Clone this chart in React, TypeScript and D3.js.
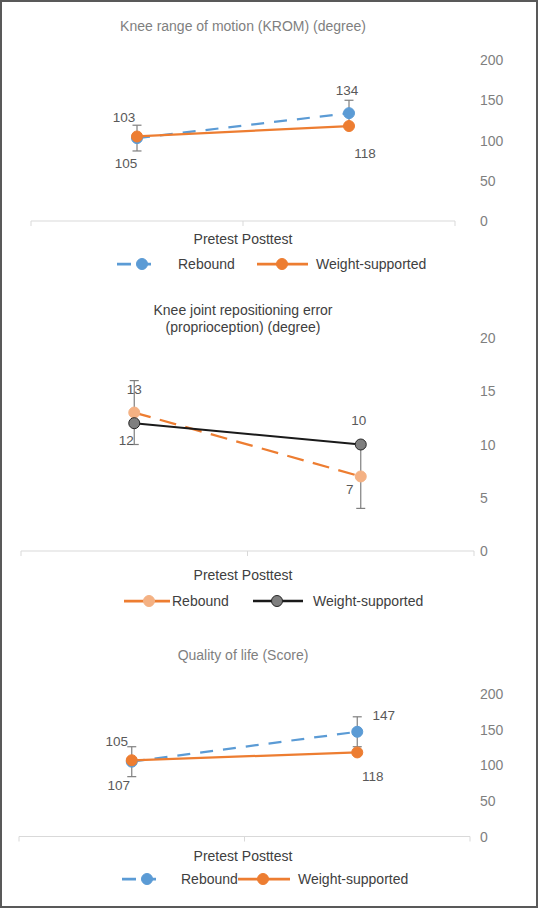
import React from "react";
import * as d3 from "d3";

const categories = ["Pretest", "Posttest"];
const seriesNames = ["Rebound", "Weight-supported"];

// Panel 1: Knee range of motion
const kromTitle = ["Knee range of motion (KROM) (degree)"];
const kromRebound = [103, 134];
const kromWeight = [105, 118];
const kromReboundErr = [16, 16];
const kromTicks = [0, 50, 100, 150, 200];

// Panel 2: Knee joint repositioning error
const jpeTitle = ["Knee joint repositioning error", "(proprioception) (degree)"];
const jpeRebound = [13, 7];
const jpeWeight = [12, 10];
const jpeReboundErr = [3, 3];
const jpeTicks = [0, 5, 10, 15, 20];

// Panel 3: Quality of life
const qolTitle = ["Quality of life (Score)"];
const qolRebound = [105, 147];
const qolWeight = [107, 118];
const qolReboundErr = [21, 21];
const qolTicks = [0, 50, 100, 150, 200];

const FONT = "'Liberation Sans', Arial, Helvetica, sans-serif";

type SeriesStyle = {
  line: string;
  width: number;
  dash?: string;
  fill: string;
  stroke: string;
  legendDash?: string;
};

type PanelCfg = {
  title: string[];
  titleY: number;
  titleColor: string;
  ticks: number[];
  y0: number;
  yTop: number;
  x0: number;
  x1: number;
  rebound: number[];
  weight: number[];
  err: number[];
  rStyle: SeriesStyle;
  wStyle: SeriesStyle;
  rLabelOff: [number, number][];
  wLabelOff: [number, number][];
  catY: number;
  legendY: number;
  legR: { lx1: number; lx2: number; cx: number; tx: number };
  legW: { lx1: number; lx2: number; cx: number; tx: number };
};

const blue: SeriesStyle = { line: "#5b9bd5", width: 2.25, dash: "13,10", fill: "#5b9bd5", stroke: "#5b9bd5", legendDash: "14,6" };
const orange: SeriesStyle = { line: "#ed7d31", width: 2.25, fill: "#ed7d31", stroke: "#ed7d31" };
const orangeDash: SeriesStyle = { line: "#ed7d31", width: 2.25, dash: "17,9.5", fill: "#f4b183", stroke: "#f4b183" };
const black: SeriesStyle = { line: "#1a1a1a", width: 2, fill: "#7f7f7f", stroke: "#262626" };

const panels: PanelCfg[] = [
  {
    title: kromTitle, titleY: 26, titleColor: "#7f7f7f", ticks: kromTicks,
    y0: 221, yTop: 60, x0: 31, x1: 455,
    rebound: kromRebound, weight: kromWeight, err: kromReboundErr,
    rStyle: blue, wStyle: orange,
    rLabelOff: [[-13, -21], [-2, -23]], wLabelOff: [[-11, 27.5], [16, 27]],
    catY: 239, legendY: 264,
    legR: { lx1: 117, lx2: 157, cx: 142, tx: 178 },
    legW: { lx1: 257, lx2: 308, cx: 282, tx: 316 },
  },
  {
    title: jpeTitle, titleY: 310, titleColor: "#404040", ticks: jpeTicks,
    y0: 551, yTop: 338, x0: 21, x1: 474,
    rebound: jpeRebound, weight: jpeWeight, err: jpeReboundErr,
    rStyle: orangeDash, wStyle: black,
    rLabelOff: [[0, -23.5], [-11, 13.5]], wLabelOff: [[-8, 17.5], [-2, -24]],
    catY: 575, legendY: 601,
    legR: { lx1: 124, lx2: 170, cx: 149, tx: 172 },
    legW: { lx1: 253, lx2: 303, cx: 277, tx: 313 },
  },
  {
    title: qolTitle, titleY: 655, titleColor: "#7f7f7f", ticks: qolTicks,
    y0: 836.5, yTop: 694, x0: 19, x1: 470,
    rebound: qolRebound, weight: qolWeight, err: qolReboundErr,
    rStyle: blue, wStyle: orange,
    rLabelOff: [[-15, -20.6], [26.5, -16.6]], wLabelOff: [[-13, 25.5], [15.5, 24.4]],
    catY: 855.5, legendY: 879,
    legR: { lx1: 122, lx2: 162, cx: 147, tx: 181 },
    legW: { lx1: 238, lx2: 290, cx: 263, tx: 298 },
  },
];

function Panel({ p }: { p: PanelCfg }) {
  const x = d3.scaleBand<string>().domain(categories).range([p.x0, p.x1]).padding(0);
  const cx = (c: string) => (x(c) as number) + x.bandwidth() / 2;
  const yMax = p.ticks[p.ticks.length - 1];
  const y = d3.scaleLinear().domain([0, yMax]).range([p.y0, p.yTop]);
  const line = d3
    .line<number>()
    .x((_, i) => cx(categories[i]))
    .y((v) => y(v));
  const mid = (p.x0 + p.x1) / 2;
  const tickXs = [p.x0, mid, p.x1];
  const r = 5.5;

  const legendItem = (
    leg: { lx1: number; lx2: number; cx: number; tx: number },
    st: SeriesStyle,
    name: string,
    dashed: boolean
  ) => (
    <g>
      <line x1={leg.lx1} x2={leg.lx2} y1={p.legendY} y2={p.legendY} stroke={st.line} strokeWidth={st.width + 0.5}
        strokeDasharray={dashed ? st.legendDash : undefined} />
      <circle cx={leg.cx} cy={p.legendY} r={r} fill={st.fill} stroke={st.stroke} strokeWidth={1} />
      <text x={leg.tx} y={p.legendY} dominantBaseline="central" fontSize={14} fill="#404040" fontFamily={FONT}>{name}</text>
    </g>
  );

  return (
    <g>
      {p.title.map((t, i) => (
        <text key={i} x={243} y={p.titleY + i * 17} textAnchor="middle" dominantBaseline="central" fontSize={14}
          fill={p.titleColor} fontFamily={FONT}>{t}</text>
      ))}
      {p.ticks.map((t) => (
        <text key={t} x={480} y={y(t)} dominantBaseline="central" fontSize={14} fill="#7f7f7f" fontFamily={FONT}>{t}</text>
      ))}
      <line x1={p.x0} x2={p.x1} y1={p.y0} y2={p.y0} stroke="#d9d9d9" strokeWidth={1} />
      {tickXs.map((tx, i) => (
        <line key={i} x1={tx} x2={tx} y1={p.y0} y2={p.y0 + 5} stroke="#d9d9d9" strokeWidth={1} />
      ))}
      <text x={243} y={p.catY} textAnchor="middle" dominantBaseline="central" fontSize={14} fill="#404040" fontFamily={FONT}>
        {categories.join(" ")}
      </text>
      <path d={line(p.rebound) || ""} fill="none" stroke={p.rStyle.line} strokeWidth={p.rStyle.width} strokeDasharray={p.rStyle.dash} />
      <path d={line(p.weight) || ""} fill="none" stroke={p.wStyle.line} strokeWidth={p.wStyle.width} strokeDasharray={p.wStyle.dash} />
      {p.rebound.map((v, i) => {
        const xx = cx(categories[i]);
        const e = p.err[i];
        return (
          <g key={i} stroke="#7f7f7f" strokeWidth={1.2}>
            <line x1={xx} x2={xx} y1={y(v - e)} y2={y(v + e)} />
            <line x1={xx - 4.5} x2={xx + 4.5} y1={y(v - e)} y2={y(v - e)} />
            <line x1={xx - 4.5} x2={xx + 4.5} y1={y(v + e)} y2={y(v + e)} />
          </g>
        );
      })}
      {p.rebound.map((v, i) => (
        <circle key={"r" + i} cx={cx(categories[i])} cy={y(v)} r={r} fill={p.rStyle.fill} stroke={p.rStyle.stroke} strokeWidth={1} />
      ))}
      {p.weight.map((v, i) => (
        <circle key={"w" + i} cx={cx(categories[i])} cy={y(v)} r={r} fill={p.wStyle.fill} stroke={p.wStyle.stroke} strokeWidth={1} />
      ))}
      {p.rebound.map((v, i) => (
        <text key={"rl" + i} x={cx(categories[i]) + p.rLabelOff[i][0]} y={y(v) + p.rLabelOff[i][1]} textAnchor="middle"
          dominantBaseline="central" fontSize={13.5} fill="#595959" fontFamily={FONT}>{v}</text>
      ))}
      {p.weight.map((v, i) => (
        <text key={"wl" + i} x={cx(categories[i]) + p.wLabelOff[i][0]} y={y(v) + p.wLabelOff[i][1]} textAnchor="middle"
          dominantBaseline="central" fontSize={13.5} fill="#595959" fontFamily={FONT}>{v}</text>
      ))}
      {legendItem(p.legR, p.rStyle, seriesNames[0], p.rStyle === blue)}
      {legendItem(p.legW, p.wStyle, seriesNames[1], false)}
    </g>
  );
}

export default function App() {
  return (
    <div style={{ position: "absolute", left: 0, top: 0 }}>
      <svg width={538} height={908} style={{ display: "block", background: "#fff" }}>
        <rect x={0} y={0} width={538} height={908} fill="#fff" />
        {panels.map((p, i) => (
          <Panel key={i} p={p} />
        ))}
        <rect x={1} y={1} width={536} height={906} fill="none" stroke="#595959" strokeWidth={2} />
      </svg>
    </div>
  );
}
